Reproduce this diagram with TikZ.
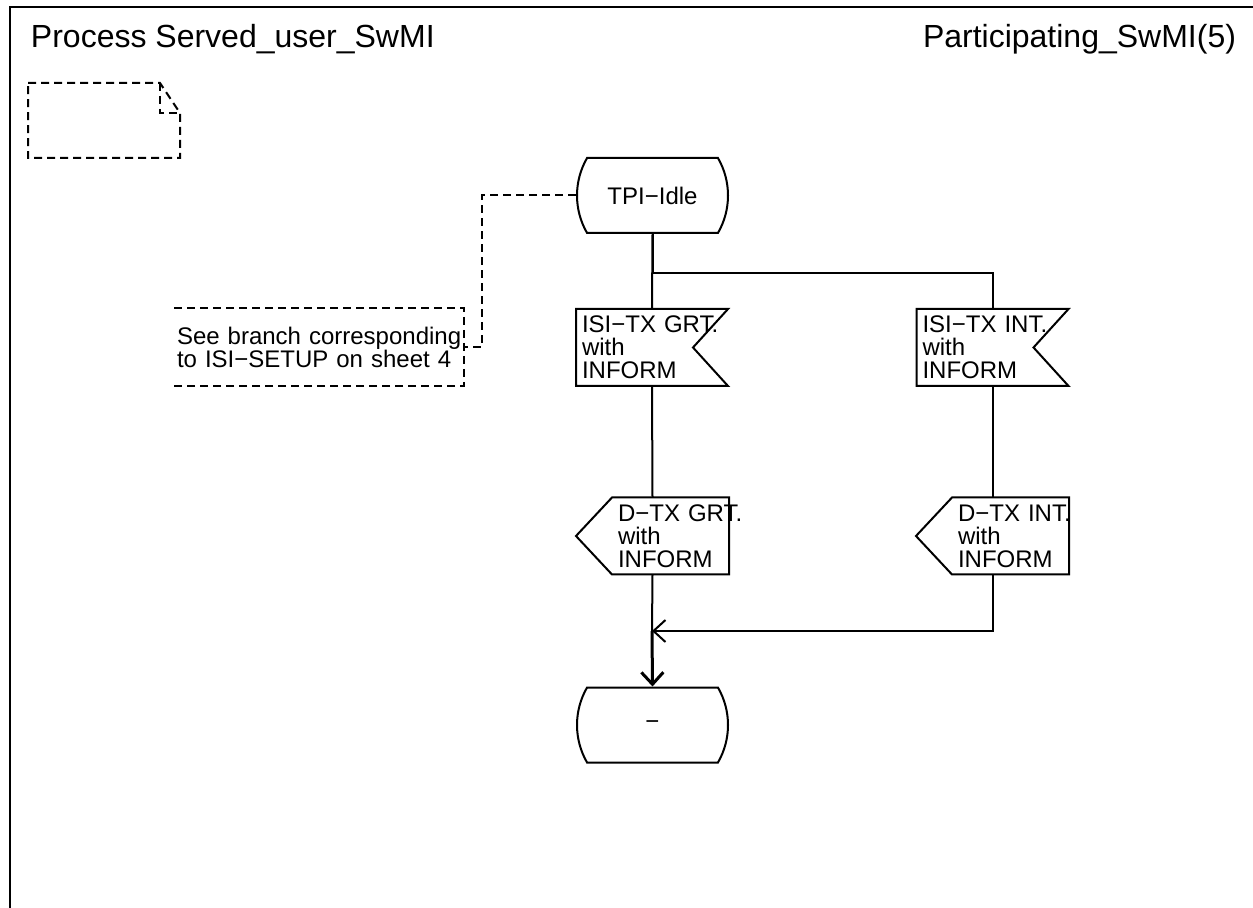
\documentclass[tikz,border=0pt]{standalone}
\usepackage{fontspec}
\setmainfont{Liberation Sans}
\usetikzlibrary{shapes.misc,arrows.meta}
\hyphenpenalty=10000
\exhyphenpenalty=10000
\tikzset{
  state/.style={rounded rectangle, rounded rectangle arc length=60, draw,
    minimum width=75.5pt, minimum height=37.5pt, inner sep=0pt},
  insig/.style={text width=70pt, inner xsep=2.5pt, inner ysep=1pt,
    minimum height=37.5pt, align=left},
  outsig/.style={text width=34.5pt, inner xsep=20.5pt, inner ysep=1pt,
    minimum height=37.5pt, align=left},
  note/.style={text width=142pt, inner xsep=1pt, inner ysep=1pt,
    minimum height=38pt, align=left},
  notedash/.style={dash pattern=on 4pt off 2.5pt}
}
\begin{document}
\begin{tikzpicture}[x=0.5pt, y=-0.5pt, line width=1pt,
  font=\fontsize{12}{11.5}\selectfont,
  >={Straight Barb[length=6pt,width=11pt]}]
\useasboundingbox (0,0) rectangle (1253,908);
% frame and heading
\draw (10,908) -- (10,7) -- (1253,7);
\node [anchor=base west, inner sep=0pt, font=\fontsize{16}{19}\selectfont] (proc) at (30,48) {Process Served\_user\_SwMI};
\node [anchor=base east, inner sep=0pt, font=\fontsize{16}{19}\selectfont] (part) at (1237,48) {Participating\_SwMI(5)};
% empty text symbol
\draw [notedash] (28,83) -- (160,83) -- (180,113) -- (180,158) -- (28,158) -- cycle;
\draw [notedash] (160,83) -- (160,113) -- (180,113);
% states
\node [state] (idle) at (652.5,195.5) {TPI−Idle};
\node [state] (dash) at (652.5,725) {−};
% inputs
\node [insig] (tgrt) at (652,347.5) {ISI−TX~GRT.\\with\\INFORM};
\node [insig] (tint) at (992.5,347.5) {ISI−TX~INT.\\with\\INFORM};
\draw (tgrt.north west) -- (tgrt.north east) -- ([xshift=-17.5pt]tgrt.east) -- (tgrt.south east) -- (tgrt.south west) -- cycle;
\draw (tint.north west) -- (tint.north east) -- ([xshift=-17.5pt]tint.east) -- (tint.south east) -- (tint.south west) -- cycle;
% outputs
\node [outsig] (dgrt) at (652.5,536) {D−TX~GRT.\\with\\INFORM};
\node [outsig] (dint) at (992.5,536) {D−TX~INT.\\with\\INFORM};
\draw (dgrt.west) -- ([xshift=18pt]dgrt.north west) -- (dgrt.north east) -- (dgrt.south east) -- ([xshift=18pt]dgrt.south west) -- cycle;
\draw (dint.west) -- ([xshift=18pt]dint.north west) -- (dint.north east) -- (dint.south east) -- ([xshift=18pt]dint.south west) -- cycle;
% comment
\node [note] (cmt) at (319,347) {See~branch~corresponding\\to ISI−SETUP on sheet 4};
\draw [notedash] (cmt.north west) -- (cmt.north east) -- (cmt.south east) -- (cmt.south west);
\draw [notedash] (idle.west) -- ++(-94,0) |- (cmt.east);
% flow lines
\coordinate (merge) at (652,631);
\draw (idle.south) -- (tgrt.north);
\draw (idle.south) -- ++(0,39) -| (tint.north);
\draw (tgrt.south) -- (dgrt.north);
\draw (tint.south) -- (dint.north);
\draw (dgrt.south) -- (merge);
\draw [->] (dint.south) |- (merge);
\draw [->, line width=1.5pt] (merge) -- (dash.north);
\end{tikzpicture}
\end{document}
